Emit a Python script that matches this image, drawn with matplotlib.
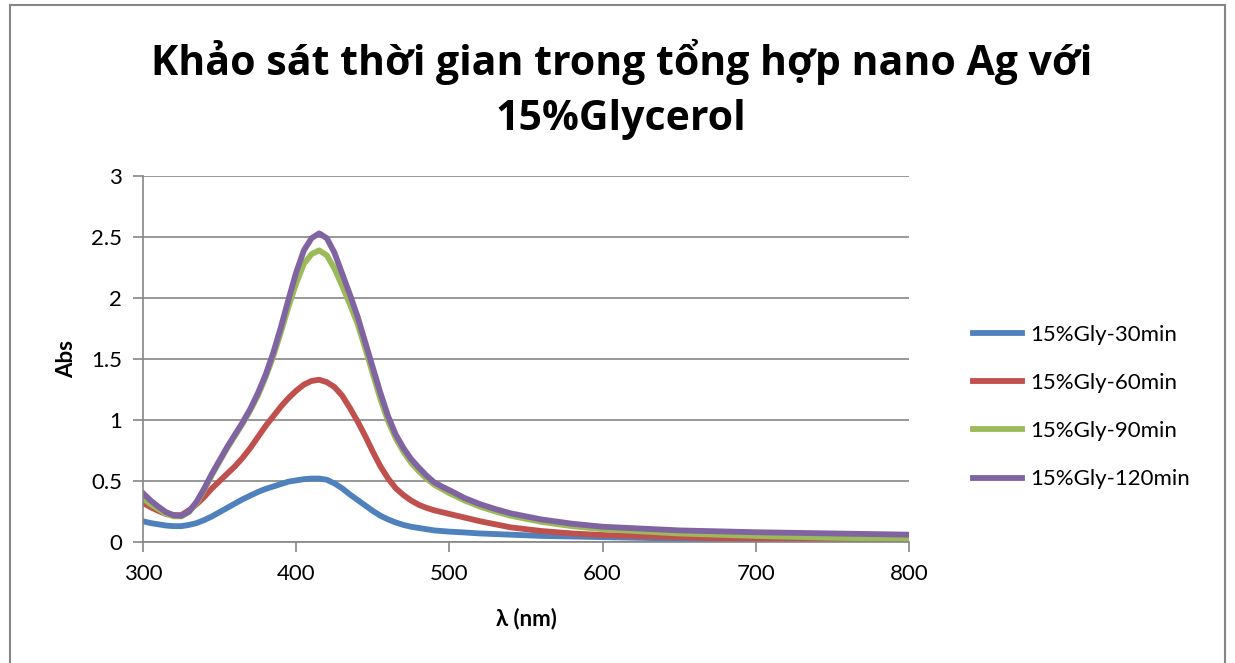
import matplotlib
matplotlib.use("Agg")
import matplotlib.pyplot as plt
from matplotlib.patches import Rectangle

# bước sóng (nm)
wavelength = list(range(300, 505, 5)) + [510, 520, 530, 540, 560, 580, 600, 650, 700, 750, 800]

abs_30 = [0.17, 0.155, 0.145, 0.135, 0.13, 0.13, 0.14, 0.155, 0.18, 0.21,
          0.245, 0.28, 0.315, 0.35, 0.38, 0.41, 0.435, 0.455, 0.475, 0.495,
          0.505, 0.515, 0.52, 0.52, 0.51, 0.48, 0.44, 0.39, 0.345, 0.30,
          0.255, 0.215, 0.185, 0.16, 0.14, 0.125, 0.115, 0.105, 0.095, 0.09,
          0.085, 0.078, 0.07, 0.065, 0.06, 0.05, 0.045, 0.04, 0.028, 0.018, 0.012, 0.01]
abs_60 = [0.32, 0.285, 0.255, 0.23, 0.22, 0.22, 0.26, 0.31, 0.37, 0.44,
          0.50, 0.56, 0.62, 0.69, 0.77, 0.86, 0.95, 1.03, 1.11, 1.18,
          1.24, 1.29, 1.32, 1.33, 1.31, 1.27, 1.20, 1.10, 0.99, 0.87,
          0.74, 0.62, 0.52, 0.44, 0.385, 0.34, 0.305, 0.28, 0.26, 0.245,
          0.23, 0.20, 0.17, 0.145, 0.12, 0.09, 0.07, 0.057, 0.04, 0.025, 0.012, 0.005]
abs_90 = [0.36, 0.31, 0.27, 0.23, 0.21, 0.21, 0.245, 0.32, 0.43, 0.55,
          0.66, 0.77, 0.87, 0.97, 1.08, 1.20, 1.35, 1.52, 1.72, 1.93,
          2.12, 2.28, 2.36, 2.39, 2.35, 2.24, 2.10, 1.95, 1.79, 1.59,
          1.38, 1.17, 0.99, 0.85, 0.74, 0.65, 0.58, 0.52, 0.47, 0.435,
          0.40, 0.34, 0.29, 0.25, 0.215, 0.165, 0.13, 0.105, 0.07, 0.05, 0.035, 0.025]
abs_120 = [0.40, 0.34, 0.29, 0.245, 0.22, 0.215, 0.25, 0.33, 0.44, 0.56,
           0.67, 0.78, 0.88, 0.98, 1.09, 1.22, 1.37, 1.55, 1.76, 1.99,
           2.21, 2.39, 2.49, 2.53, 2.49, 2.37, 2.20, 2.03, 1.85, 1.64,
           1.43, 1.22, 1.03, 0.88, 0.77, 0.68, 0.61, 0.545, 0.49, 0.455,
           0.425, 0.36, 0.31, 0.27, 0.235, 0.185, 0.15, 0.125, 0.095, 0.08, 0.07, 0.06]

series = [abs_30, abs_60, abs_90, abs_120]
labels = ["15%Gly-30min", "15%Gly-60min", "15%Gly-90min", "15%Gly-120min"]
colors = ["#4F81BD", "#C0504D", "#9BBB59", "#8064A2"]

plt.rcParams['font.family'] = ['Lato', 'Open Sans', 'DejaVu Sans']
grid_c = "#868686"

fig = plt.figure(figsize=(12.35, 6.63), dpi=100)
ax = fig.add_axes([143/1235, 1 - 542/663, 766/1235, 366/663])

for y, lab, c in zip(series, labels, colors):
    ax.plot(wavelength, y, color=c, lw=4.2, label=lab, solid_joinstyle='round')

ax.set_xlim(300, 800)
ax.set_ylim(0, 3)
ax.set_xticks([300, 400, 500, 600, 700, 800])
ax.set_yticks([0, 0.5, 1, 1.5, 2, 2.5, 3])
ax.set_yticklabels(["0", "0.5", "1", "1.5", "2", "2.5", "3"])
ax.yaxis.grid(True, color=grid_c, lw=1.2)
ax.set_axisbelow(True)
for s in ["top", "right"]:
    ax.spines[s].set_visible(False)
for s in ["left", "bottom"]:
    ax.spines[s].set_color(grid_c)
    ax.spines[s].set_linewidth(1.2)
ax.tick_params(colors=grid_c, width=1.2, length=7, labelsize=16, labelcolor="black")
ax.tick_params(axis='x', pad=9)
ax.tick_params(axis='y', pad=8)

ax.set_xlabel("λ (nm)", fontsize=16, fontweight="bold", labelpad=17)
ax.set_ylabel("Abs", fontsize=16, fontweight="bold", labelpad=10)

fig.text(0.503, 0.906, "Khảo sát thời gian trong tổng hợp nano Ag với",
         ha="center", va="center", fontsize=29.5, fontweight="bold", family="Open Sans")
fig.text(0.503, 0.82, "15%Glycerol", ha="center", va="center",
         fontsize=29.5, fontweight="bold", family="Open Sans")

leg = fig.legend(loc="center left", bbox_to_anchor=(973/1235, 1 - 407/663),
                 frameon=False, fontsize=16, handlelength=2.2, labelspacing=1.27,
                 handletextpad=0.36, borderpad=0, borderaxespad=0)
for h in leg.get_lines():
    h.set_linewidth(4.2)

fig.patches.append(Rectangle((10/1235, -0.1), 1215/1235, 1.1 - 5/663,
                             transform=fig.transFigure, fill=False,
                             edgecolor=grid_c, lw=1.5))

fig.savefig("out.png", dpi=100)
